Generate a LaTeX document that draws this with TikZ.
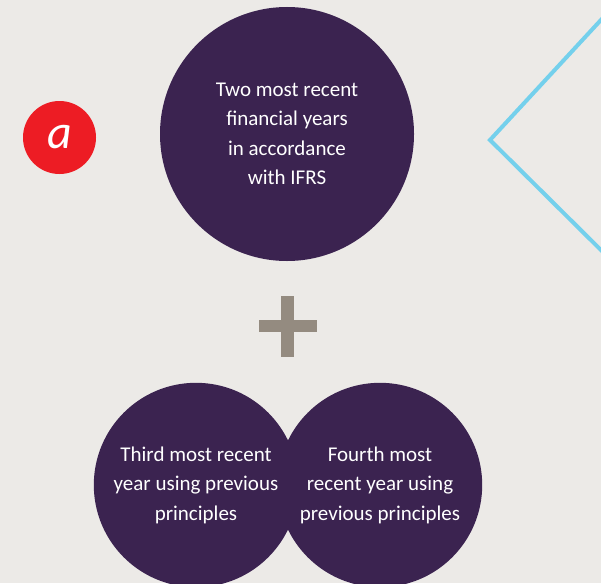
\documentclass[tikz,border=0pt]{standalone}
\usepackage{fontspec}
\setmainfont{Carlito}
\usetikzlibrary{positioning}
\definecolor{paper}{HTML}{ECEAE7}
\definecolor{plum}{HTML}{3B2350}
\definecolor{alert}{HTML}{ED1C24}
\definecolor{sky}{HTML}{74D0EC}
\definecolor{stone}{HTML}{948B80}

\begin{document}
\begin{tikzpicture}[x=1pt,y=-1pt,
  disc/.style={circle,fill=plum,text=white,align=center,inner sep=0pt,
    font=\fontsize{21}{29.5}\selectfont}]
\fill[paper] (0,0) rectangle (601,583);
\useasboundingbox (0,0) rectangle (601,583);
% chevron at the right edge
\draw[sky,line width=4pt] (612,8) -- (490,140) -- (612,261);
\node[circle,fill=alert,minimum size=73pt,inner sep=0pt,text=white,
  font=\fontsize{48}{48}\selectfont\itshape] (tag) at (59.5,137.5) {a};
\node[disc,minimum size=254pt] (ifrs) at (287,134)
  {Two most recent\\financial years\\in accordance\\with IFRS};
% plus sign
\fill[stone] (280.7,295.7) rectangle (294,356.7);
\fill[stone] (258.7,320) rectangle (316.7,332);
\node[disc,minimum size=204.4pt] (third) at (196,485)
  {Third most recent\\year using previous\\principles};
\node[disc,minimum size=204.4pt] (fourth) at (380,485)
  {Fourth most\\recent year using\\previous principles};
\end{tikzpicture}
\end{document}
